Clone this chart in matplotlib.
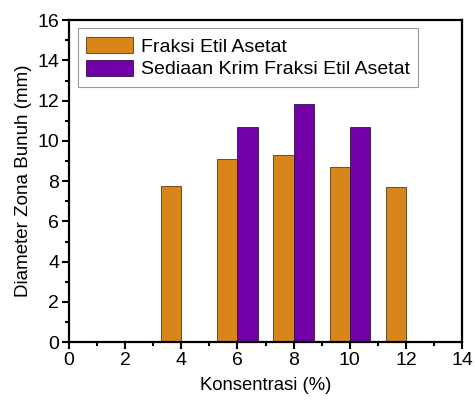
import numpy as np
import matplotlib.pyplot as plt
from matplotlib.ticker import MultipleLocator

plt.rcParams['font.family'] = ['Liberation Sans', 'DejaVu Sans']

konsentrasi = [4, 6, 8, 10, 12]
fraksi = [7.75, 9.1, 9.3, 8.7, 7.7]
krim_x = [6, 8, 10]
krim = [10.7, 11.85, 10.7]

orange = '#D8861A'
purple = '#7100A6'

fig = plt.figure(figsize=(4.75, 4.03), dpi=100)
ax = fig.add_axes([0.145, 0.151, 0.828, 0.799])

ax.bar(konsentrasi, fraksi, width=-0.72, align='edge', color=orange,
       edgecolor='#5a3a10', linewidth=0.6, label='Fraksi Etil Asetat')
ax.bar(krim_x, krim, width=0.72, align='edge', color=purple,
       edgecolor='#3a1050', linewidth=0.6, label='Sediaan Krim Fraksi Etil Asetat')

ax.set_xlim(0, 14)
ax.set_ylim(0, 16)
ax.xaxis.set_major_locator(MultipleLocator(2))
ax.xaxis.set_minor_locator(MultipleLocator(1))
ax.yaxis.set_major_locator(MultipleLocator(2))
ax.yaxis.set_minor_locator(MultipleLocator(1))
ax.tick_params(which='major', direction='out', length=5, width=1.5, labelsize=14, pad=2)
ax.tick_params(which='minor', direction='out', length=3, width=1.5)
for s in ax.spines.values():
    s.set_linewidth(1.6)

ax.set_xlabel('Konsentrasi (%)', fontsize=13.3, labelpad=6)
ax.set_ylabel('Diameter Zona Bunuh (mm)', fontsize=13.5, labelpad=4)

leg = ax.legend(loc='upper left', bbox_to_anchor=(0.022, 0.975), fontsize=14,
                frameon=True, fancybox=False, edgecolor='#808080',
                handlelength=2.4, handleheight=0.9, borderpad=0.45,
                labelspacing=0.2, handletextpad=0.4, borderaxespad=0)
leg.get_frame().set_linewidth(0.8)

fig.savefig('out.png', dpi=100)
